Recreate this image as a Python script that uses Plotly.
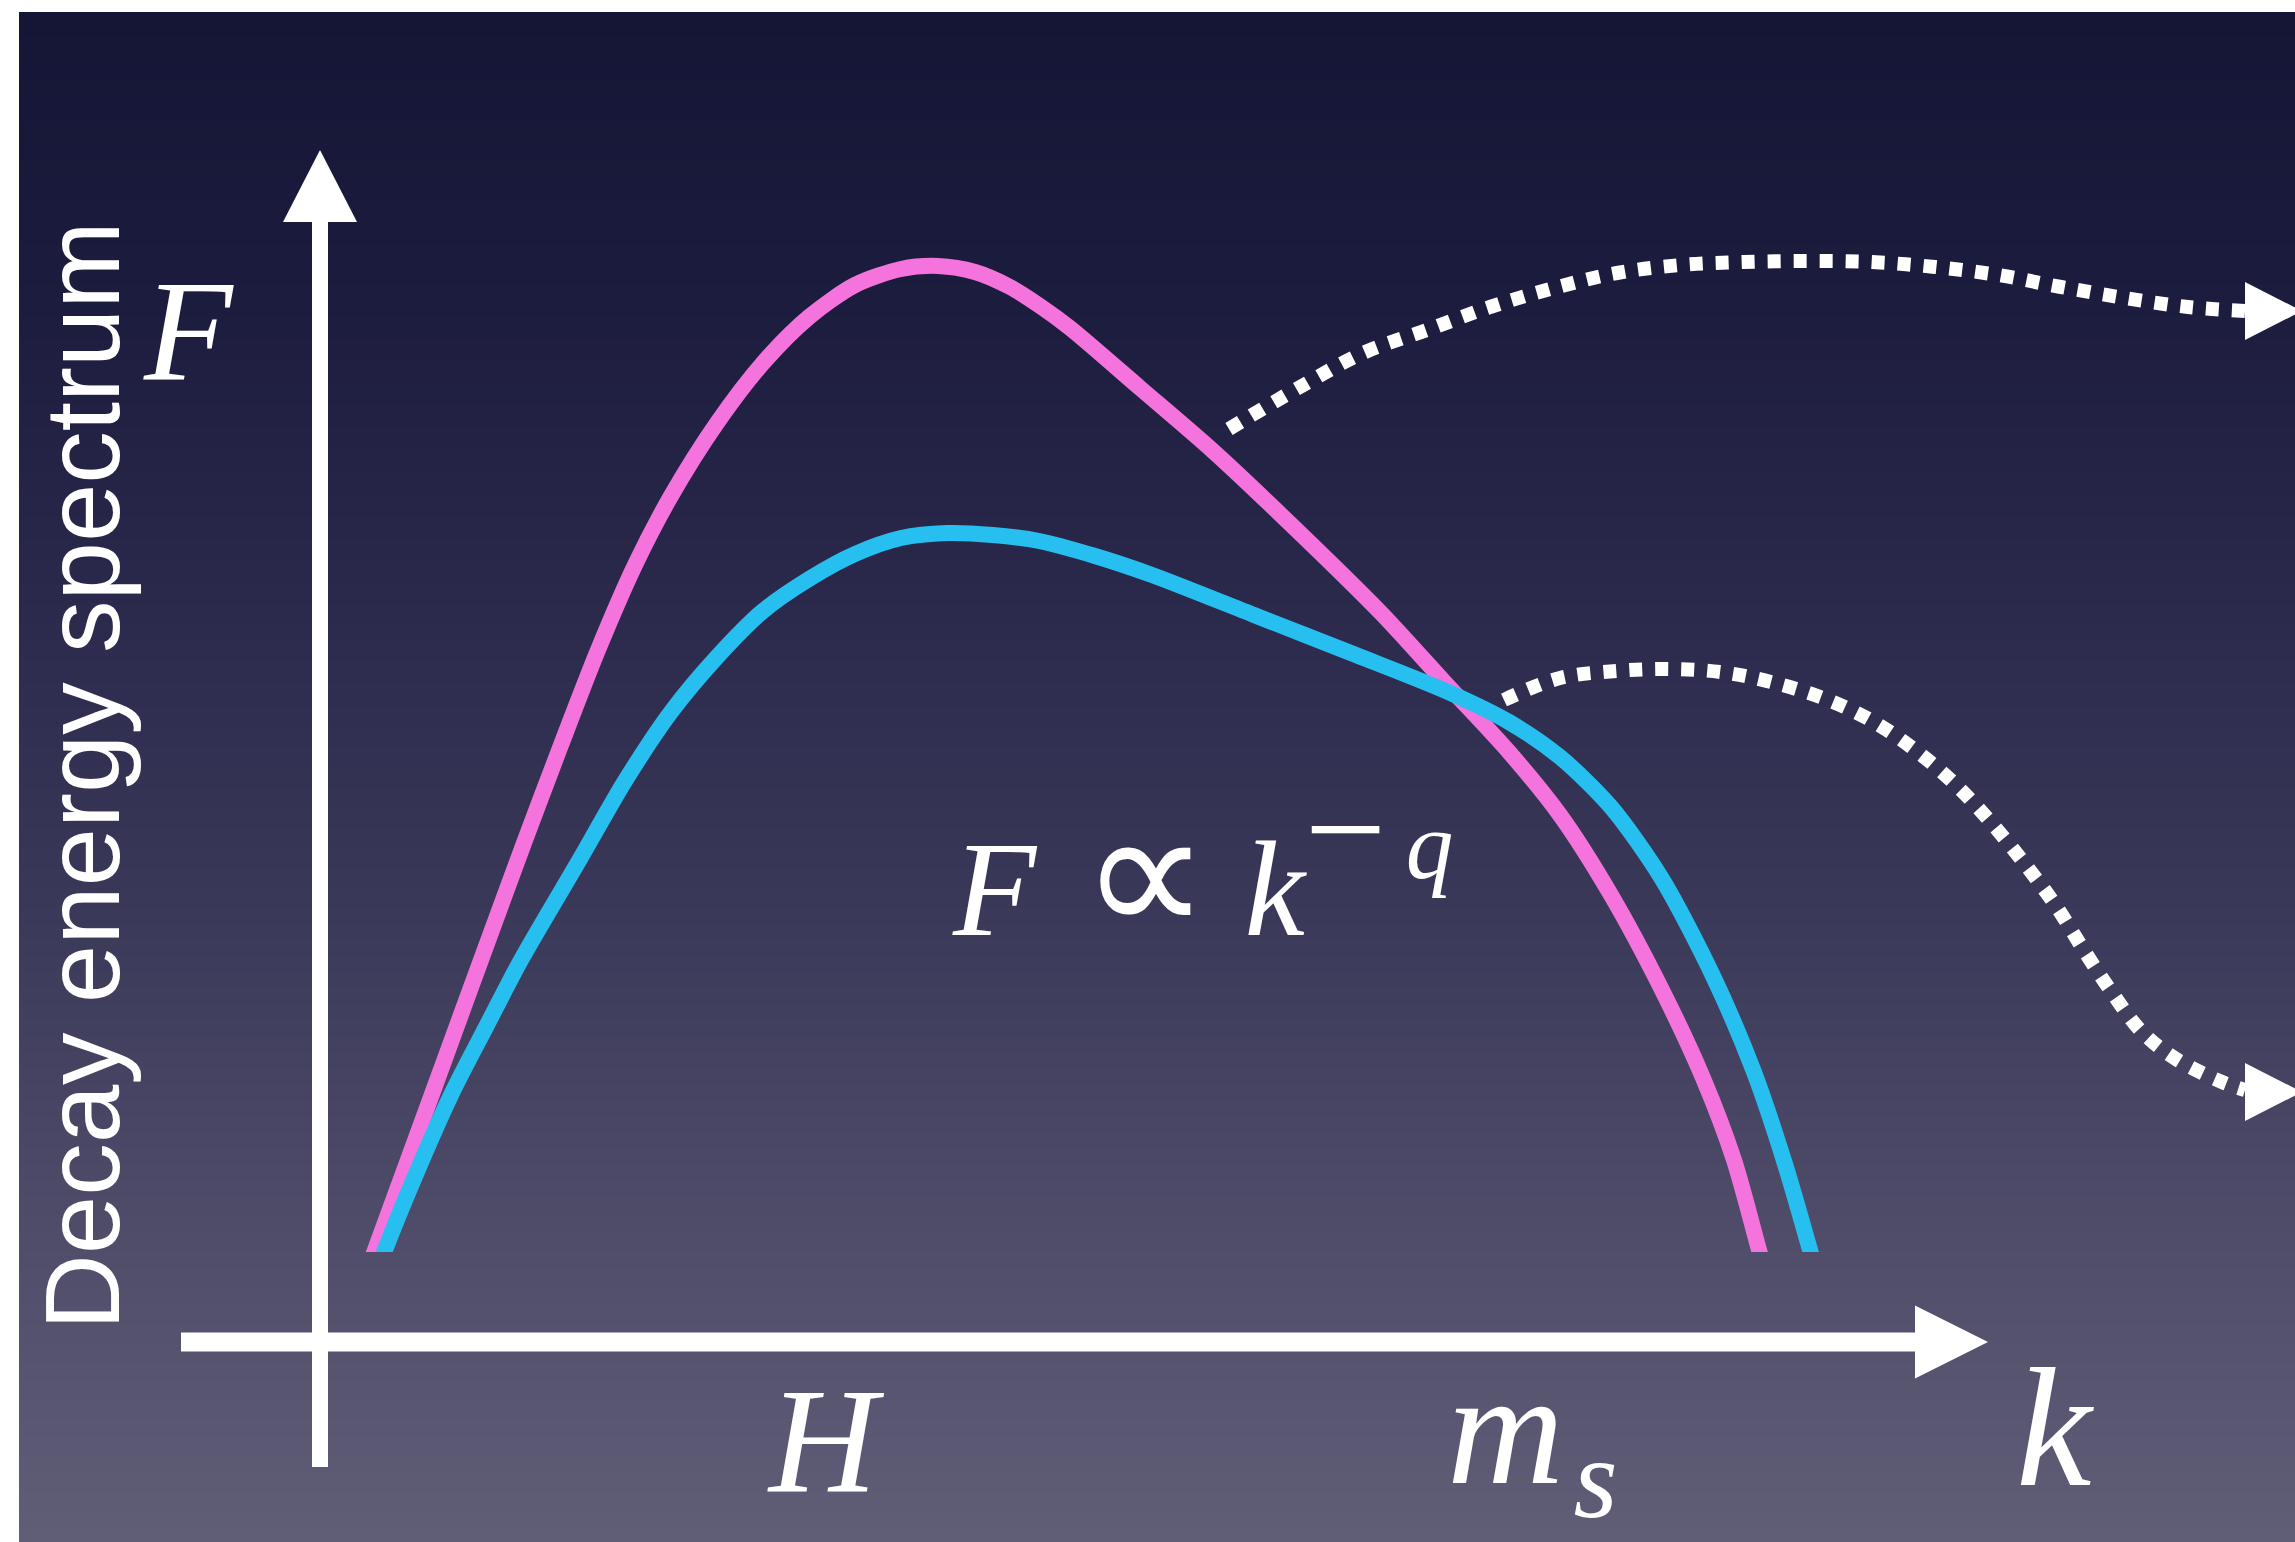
import numpy as np
import plotly.graph_objects as go

# --- spectrum curves (k, F) in diagram units; the axes meet at (0, 0) ---
k_pink = [0.46, 0.55, 1.00, 1.50, 2.04, 2.41, 2.78, 3.15, 3.51, 3.97, 4.43, 4.89,
          5.35, 5.81, 6.18, 6.55, 6.90, 7.20, 7.50, 8.20, 8.93, 9.85, 10.62, 11.28,
          11.89, 12.40, 12.91, 13.42, 13.83, 14.14, 14.39, 14.46]
F_pink = [0.67, 0.92, 2.15, 3.52, 4.99, 5.97, 6.92, 7.77, 8.46, 9.19, 9.79, 10.25,
          10.57, 10.73, 10.76, 10.70, 10.55, 10.36, 10.14, 9.54, 8.91, 8.04, 7.28, 6.56,
          5.90, 5.27, 4.47, 3.52, 2.64, 1.82, 0.92, 0.67]

k_cyan = [0.56, 0.65, 0.99, 1.32, 1.66, 2.01, 2.60, 3.05, 3.51, 3.97, 4.43, 4.89,
          5.35, 5.81, 6.27, 6.73, 7.19, 7.75, 8.32, 9.34, 10.36, 11.28, 11.89, 12.40,
          12.91, 13.42, 13.93, 14.34, 14.65, 14.90, 14.97]
F_cyan = [0.67, 0.92, 1.75, 2.49, 3.15, 3.82, 4.83, 5.61, 6.30, 6.85, 7.31, 7.63,
          7.88, 8.04, 8.09, 8.07, 8.01, 7.86, 7.67, 7.27, 6.87, 6.50, 6.20, 5.85,
          5.35, 4.63, 3.66, 2.70, 1.78, 0.92, 0.67]

# --- dotted arrows leading off to the right ---
k_upper = [9.09, 9.80, 10.43, 11.07, 11.70, 12.34, 12.97, 13.61, 14.24, 14.88,
           15.51, 16.15, 16.78, 17.41, 18.05, 18.68, 19.25]
F_upper = [9.13, 9.55, 9.89, 10.12, 10.35, 10.54, 10.69, 10.77, 10.80, 10.81,
           10.80, 10.75, 10.67, 10.55, 10.44, 10.35, 10.31]

k_lower = [11.84, 12.40, 12.97, 13.48, 14.00, 14.51, 15.08, 15.54, 15.99, 16.39,
           16.74, 17.08, 17.36, 17.65, 17.93, 18.22, 18.56, 19.02, 19.25]
F_lower = [6.42, 6.64, 6.71, 6.73, 6.70, 6.60, 6.42, 6.20, 5.89, 5.54,
           5.16, 4.74, 4.36, 3.90, 3.48, 3.10, 2.83, 2.60, 2.52]

# --- labels ---
y_title = "Decay energy spectrum"
y_symbol = "<i>F</i>"
x_symbol = "<i>k</i>"
tick_H = "<i>H</i>"
tick_ms = "<i>m</i><sub>\u200a<i>s</i></sub>"
power_law = ("<i>F</i> \u200a<span style=\"font-family:DejaVu Sans;font-weight:200;"
             "font-size:180px\">\u221d</span> <i>k</i>"
             "<sup><span style=\"font-size:145px\">\u2212</span>\u2009<i>q</i></sup>")

W, H = 2295, 1542
X_RANGE = [-3.20, 19.75]
Y_RANGE = [-2.00, 13.42]
BASELINE = 0.90          # curves are cut off flat at this height

PINK = "#f573dd"
CYAN = "#26bff0"
WHITE = "#ffffff"
SERIF = "Liberation Serif, Times New Roman, serif"
SANS = "Liberation Sans, Arial, Helvetica, sans-serif"

fig = go.Figure()

# slide background: vertical navy-to-slate gradient, leaving a thin white frame
n_rows = 240
y_edges = np.linspace(13.30, -2.00, n_rows + 1)
shade = np.linspace(0, 1, n_rows).reshape(-1, 1)
fig.add_trace(go.Heatmap(
    x=[-3.01, 19.75], y=y_edges, z=shade,
    colorscale=[[0.0, "rgb(21,21,54)"], [0.19, "rgb(28,28,62)"],
                [0.38, "rgb(42,41,76)"], [0.58, "rgb(58,56,88)"],
                [0.78, "rgb(77,75,104)"], [1.0, "rgb(96,93,119)"]],
    zmin=0, zmax=1, showscale=False, hoverinfo="skip", zsmooth="best",
    xaxis="x", yaxis="y"))

dots = dict(color=WHITE, width=14, dash="13px,13px")
fig.add_trace(go.Scatter(x=k_upper, y=F_upper, mode="lines", line=dict(shape="spline", **dots),
                         hoverinfo="skip", xaxis="x", yaxis="y"))
fig.add_trace(go.Scatter(x=k_lower, y=F_lower, mode="lines", line=dict(shape="spline", **dots),
                         hoverinfo="skip", xaxis="x", yaxis="y"))

fig.add_trace(go.Scatter(x=k_pink, y=F_pink, mode="lines",
                         line=dict(color=PINK, width=16, shape="spline", smoothing=0.8),
                         hoverinfo="skip", xaxis="x2", yaxis="y2"))
fig.add_trace(go.Scatter(x=k_cyan, y=F_cyan, mode="lines",
                         line=dict(color=CYAN, width=16, shape="spline", smoothing=0.8),
                         hoverinfo="skip", xaxis="x2", yaxis="y2"))


def tri(points):
    return "M " + " L ".join(f"{a},{b}" for a, b in points) + " Z"


shapes = [
    # vertical axis with arrowhead
    dict(type="line", xref="x", yref="y", x0=0, x1=0, y0=-1.25, y1=11.25,
         line=dict(color=WHITE, width=16)),
    dict(type="path", xref="x", yref="y", path=tri([(-0.37, 11.20), (0.37, 11.20), (0, 11.92)]),
         fillcolor=WHITE, line=dict(width=0)),
    # horizontal axis with arrowhead
    dict(type="line", xref="x", yref="y", x0=-1.39, x1=16.0, y0=0, y1=0,
         line=dict(color=WHITE, width=19)),
    dict(type="path", xref="x", yref="y", path=tri([(15.95, 0.365), (15.95, -0.365), (16.68, 0)]),
         fillcolor=WHITE, line=dict(width=0)),
    # heads of the dotted arrows
    dict(type="path", xref="x", yref="y", path=tri([(19.25, 10.60), (19.25, 10.02), (19.82, 10.31)]),
         fillcolor=WHITE, line=dict(width=0)),
    dict(type="path", xref="x", yref="y", path=tri([(19.25, 2.79), (19.25, 2.21), (19.82, 2.50)]),
         fillcolor=WHITE, line=dict(width=0)),
]

annotations = [
    dict(text=y_title, x=-2.38, y=5.66, textangle=-90, xanchor="center", yanchor="middle",
         font=dict(family=SANS, size=105, color=WHITE)),
    dict(text=y_symbol, x=-1.32, y=10.12, xanchor="center", yanchor="middle",
         font=dict(family=SERIF, size=145, color=WHITE)),
    dict(text=tick_H, x=5.06, y=-0.98, xanchor="center", yanchor="middle",
         font=dict(family=SERIF, size=150, color=WHITE)),
    dict(text=tick_ms, x=11.25, y=-0.98, xanchor="left", yanchor="middle",
         font=dict(family=SERIF, size=162, color=WHITE)),
    dict(text=x_symbol, x=17.35, y=-0.86, xanchor="center", yanchor="middle",
         font=dict(family=SERIF, size=170, color=WHITE)),
    dict(text=power_law, x=6.30, y=4.79, xanchor="left", yanchor="middle",
         font=dict(family=SERIF, size=136, color=WHITE)),
]
for a in annotations:
    a.update(xref="x", yref="y", showarrow=False)

hidden = dict(visible=False, showgrid=False, zeroline=False, fixedrange=True)
fig.update_layout(
    width=W, height=H,
    margin=dict(l=0, r=0, t=0, b=0, pad=0),
    paper_bgcolor=WHITE, plot_bgcolor="rgba(0,0,0,0)",
    showlegend=False,
    xaxis=dict(range=X_RANGE, domain=[0, 1], anchor="y", **hidden),
    yaxis=dict(range=Y_RANGE, domain=[0, 1], anchor="x", **hidden),
    xaxis2=dict(range=X_RANGE, domain=[0, 1], anchor="y2", **hidden),
    yaxis2=dict(range=[BASELINE, Y_RANGE[1]],
                domain=[(BASELINE - Y_RANGE[0]) / (Y_RANGE[1] - Y_RANGE[0]), 1],
                anchor="x2", **hidden),
    shapes=shapes,
    annotations=annotations,
)

fig.write_html("out.html")
